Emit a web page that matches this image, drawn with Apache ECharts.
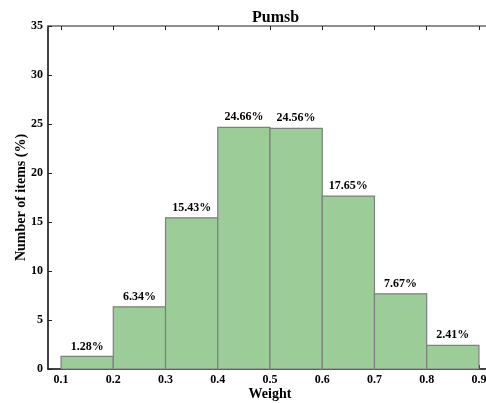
<!DOCTYPE html>
<html>
<head>
<meta charset="utf-8">
<script src="https://cdn.jsdelivr.net/npm/echarts@6/dist/echarts.min.js"></script>
<style>
  html, body { margin: 0; padding: 0; background: #fff; }
  #chart { width: 486px; height: 403px; }
</style>
</head>
<body>
<div id="chart"></div>
<script>
// Histogram bins (left edges, width 0.1) and share of items per bin (%)
const binStarts = [0.1, 0.2, 0.3, 0.4, 0.5, 0.6, 0.7, 0.8];
const binWidth = 0.1;
const shares = [1.28, 6.34, 15.43, 24.66, 24.56, 17.65, 7.67, 2.41];
const xTicks = [0.1, 0.2, 0.3, 0.4, 0.5, 0.6, 0.7, 0.8, 0.9];
const yTicks = [0, 5, 10, 15, 20, 25, 30, 35];

const font = '"Liberation Serif", "Times New Roman", serif';

const chart = echarts.init(document.getElementById('chart'), null, { renderer: 'canvas' });

const binData = binStarts.map((s, i) => [s, s + binWidth, shares[i]]);

chart.setOption({
  animation: false,
  title: {
    text: 'Pumsb',
    left: 247, top: 5,
    textStyle: { fontFamily: font, fontWeight: 'bold', fontSize: 16, color: '#000' }
  },
  grid: {
    left: 48, right: -6, top: 26, bottom: 34,
    containLabel: false, outerBoundsMode: 'none',
    show: true, borderColor: '#888', borderWidth: 1.5, backgroundColor: 'transparent'
  },
  xAxis: [{
    type: 'value',
    min: 0.075, max: 0.925,
    name: 'Weight',
    nameLocation: 'middle',
    nameGap: 18,
    nameMoveOverlap: false,
    nameTextStyle: { fontFamily: font, fontWeight: 'bold', fontSize: 14, color: '#000', verticalAlign: 'top' },
    axisLine: { show: true, onZero: false, lineStyle: { color: '#222', width: 1.5 } },
    axisTick: { show: true, inside: true, length: 4, customValues: xTicks, lineStyle: { color: '#222' } },
    axisLabel: {
      customValues: xTicks,
      formatter: v => v.toFixed(1),
      fontFamily: font, fontWeight: 'bold', fontSize: 12, color: '#000', margin: 5
    },
    splitLine: { show: false }
  }, {
    type: 'value',
    position: 'top',
    min: 0.075, max: 0.925,
    axisLine: { show: true, onZero: false, lineStyle: { color: '#888', width: 1.5 } },
    axisTick: { show: true, inside: true, length: 4, customValues: xTicks, lineStyle: { color: '#222' } },
    axisLabel: { show: false },
    splitLine: { show: false }
  }],
  yAxis: {
    type: 'value',
    min: 0, max: 35, interval: 5,
    name: 'Number of items (%)',
    nameLocation: 'middle',
    nameGap: 20,
    nameMoveOverlap: false,
    nameTextStyle: { fontFamily: font, fontWeight: 'bold', fontSize: 14, color: '#000' },
    axisLine: { show: true, lineStyle: { color: '#222', width: 1.5 } },
    axisTick: { show: true, inside: true, length: 4, lineStyle: { color: '#222' } },
    axisLabel: {
      customValues: yTicks,
      fontFamily: font, fontWeight: 'bold', fontSize: 12, color: '#000', margin: 5
    },
    splitLine: { show: false }
  },
  series: [{
    type: 'custom',
    xAxisIndex: 0,
    data: binData,
    encode: { x: [0, 1], y: 2 },
    renderItem: function (params, api) {
      const p0 = api.coord([api.value(0), api.value(2)]);
      const p1 = api.coord([api.value(1), 0]);
      const x = p0[0], y = p0[1];
      const w = p1[0] - p0[0], h = p1[1] - p0[1];
      return {
        type: 'group',
        children: [{
          type: 'rect',
          shape: { x: x, y: y, width: w, height: h },
          style: { fill: '#9ccc98', stroke: '#7f7f7f', lineWidth: 1.2 }
        }, {
          type: 'text',
          x: x + w / 2, y: y - 4,
          style: {
            text: api.value(2).toFixed(2) + '%',
            textAlign: 'center', textVerticalAlign: 'bottom',
            font: 'bold 12px ' + font, fill: '#000'
          }
        }]
      };
    }
  }]
});
</script>
</body>
</html>
